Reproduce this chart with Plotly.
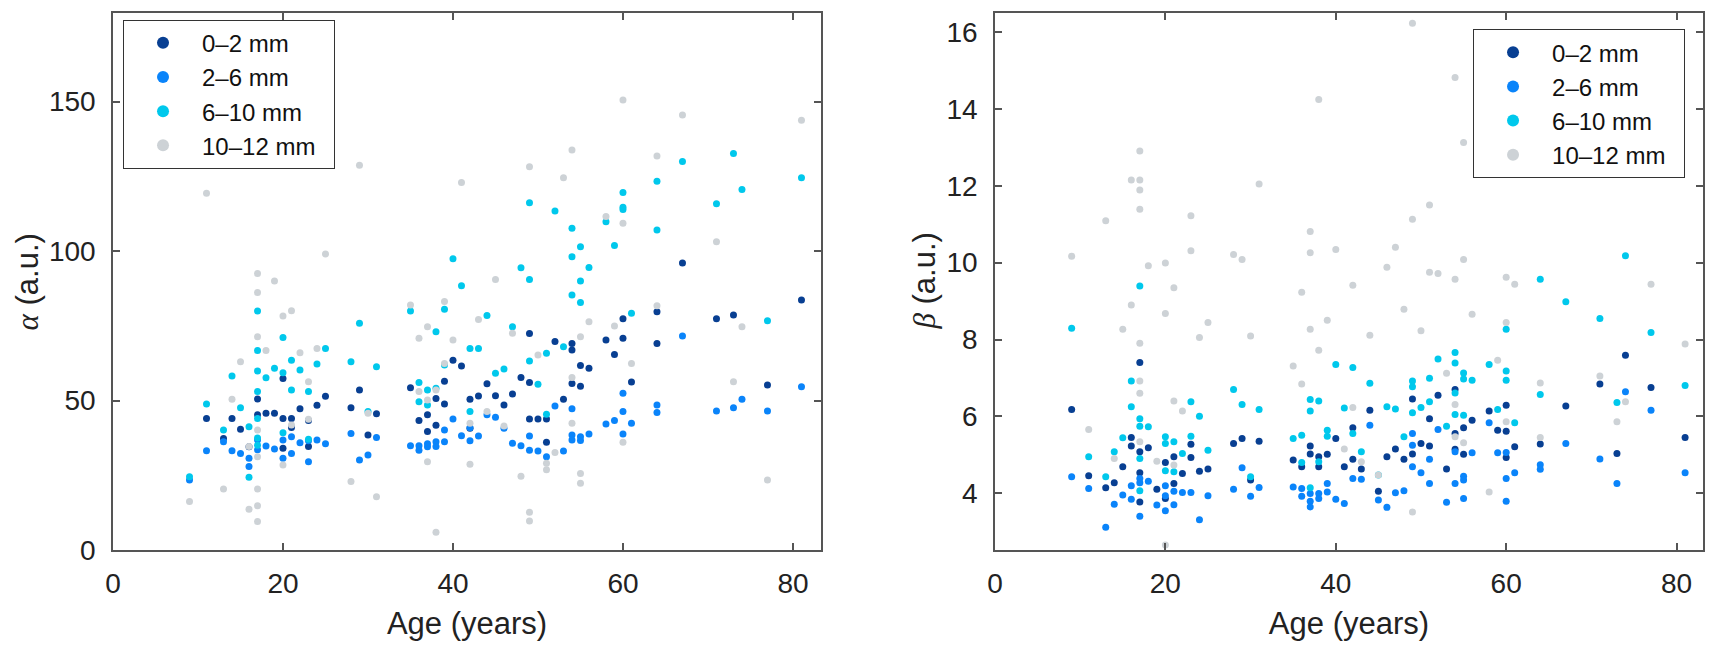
import plotly.graph_objects as go

# ---- alpha (left panel) ----
a02_age = [11, 13, 14, 15, 16, 17, 17, 18, 19, 20, 20, 20, 21, 21, 22, 23, 23, 24, 25, 28, 29, 30, 31,
           35, 36, 37, 37, 38, 38, 39, 39, 40, 41, 42, 42, 43, 44, 45, 46, 47, 48, 49, 49, 49, 50, 51, 51,
           52, 53, 54, 54, 54, 55, 55, 56, 58, 59, 60, 60, 61, 64, 64, 67, 71, 73, 77, 81]
a02 = [44.0, 37.3, 44.0, 40.4, 34.5, 50.5, 45.2, 45.7, 45.7, 57.4, 44.0, 34.0, 44.0, 41.0, 47.2, 34.6, 43.3,
       48.4, 51.4, 47.6, 53.5, 38.5, 45.6, 54.3, 43.3, 45.2, 39.6, 50.7, 41.7, 56.4, 48.8, 63.5, 61.5, 50.4,
       40.7, 51.5, 55.6, 51.6, 48.5, 52.2, 57.7, 72.4, 56.0, 43.8, 43.8, 43.8, 36.0, 69.7, 50.4, 69.1, 66.9,
       55.7, 61.7, 54.8, 60.8, 70.2, 65.4, 77.3, 70.8, 56.2, 79.7, 69.1, 96.0, 77.3, 78.6, 55.2, 83.6]

a26_age = [9, 11, 13, 14, 15, 16, 16, 17, 17, 18, 19, 20, 20, 21, 21, 22, 23, 23, 24, 25, 28, 29, 30, 31,
           35, 36, 36, 37, 37, 38, 38, 39, 39, 40, 41, 42, 42, 43, 44, 45, 46, 47, 48, 49, 49, 50, 51, 52,
           53, 54, 54, 54, 55, 55, 56, 58, 59, 60, 60, 60, 61, 64, 64, 67, 71, 73, 74, 77, 81]
a26 = [23.4, 33.2, 36.2, 33.2, 32.3, 30.7, 27.9, 36.8, 33.5, 34.8, 33.8, 36.8, 30.7, 37.9, 32.3, 35.9, 29.5,
       36.5, 36.8, 35.5, 39.0, 30.1, 31.8, 37.6, 34.9, 34.9, 33.4, 35.5, 34.5, 36.2, 34.6, 40.1, 36.2, 43.8,
       38.2, 40.9, 36.5, 38.1, 45.2, 44.4, 40.7, 35.7, 34.9, 38.1, 33.4, 33.1, 31.2, 48.2, 33.1, 47.2, 38.5,
       36.8, 37.9, 36.6, 38.8, 42.1, 43.3, 52.4, 46.3, 38.8, 42.4, 48.5, 46.0, 71.6, 46.5, 47.6, 50.4, 46.5,
       54.6]

a610_age = [9, 11, 13, 14, 15, 16, 16, 17, 17, 17, 17, 17, 17, 17, 18, 19, 20, 20, 20, 21, 21, 22, 23, 23,
            24, 25, 28, 29, 30, 31, 35, 36, 36, 37, 37, 38, 38, 39, 39, 40, 41, 42, 42, 43, 44, 45, 46, 47,
            48, 49, 49, 49, 50, 51, 51, 52, 53, 54, 54, 54, 55, 55, 55, 56, 58, 59, 60, 60, 60, 61, 64, 64,
            67, 71, 73, 74, 77, 81]
a610 = [24.5, 48.8, 40.1, 58.2, 47.6, 41.2, 24.3, 79.9, 66.7, 59.9, 53.0, 44.0, 37.5, 35.0, 57.6, 60.8, 71.1,
        59.3, 39.2, 63.5, 53.5, 60.2, 53.0, 37.0, 62.2, 67.4, 63.0, 75.8, 46.3, 61.3, 79.9, 56.0, 49.6, 53.5,
        48.5, 73.0, 54.1, 80.5, 61.9, 97.4, 88.4, 67.4, 46.3, 67.4, 78.4, 59.1, 60.5, 74.7, 94.4, 116.1, 90.5,
        63.2, 55.4, 65.8, 45.4, 113.4, 68.0, 107.6, 98.1, 85.3, 101.4, 90.0, 82.8, 94.5, 109.8, 101.8, 119.6,
        114.6, 113.9, 79.2, 123.3, 107.0, 129.9, 115.8, 132.6, 120.6, 76.7, 124.5]

a1012_age = [9, 11, 13, 14, 15, 16, 16, 17, 17, 17, 17, 17, 17, 17, 17, 18, 19, 20, 20, 21, 21, 22, 23, 23,
             24, 25, 28, 29, 30, 31, 35, 36, 36, 37, 37, 37, 38, 38, 39, 39, 40, 41, 42, 42, 43, 44, 45, 46,
             47, 48, 49, 49, 49, 50, 51, 51, 52, 53, 54, 54, 54, 55, 55, 55, 56, 58, 59, 60, 60, 60, 61, 64,
             64, 67, 71, 73, 74, 77, 81]
a1012 = [16.2, 119.3, 20.4, 50.4, 63.0, 13.6, 34.6, 92.5, 86.1, 71.3, 40.1, 31.2, 20.4, 14.8, 9.5, 66.7, 90.0,
         78.3, 28.4, 80.0, 41.8, 66.0, 56.3, 43.7, 67.4, 99.0, 22.9, 128.7, 45.7, 17.8, 81.9, 70.8, 53.0, 74.7,
         50.2, 29.5, 53.5, 5.9, 83.1, 62.4, 70.2, 122.9, 42.4, 28.7, 77.1, 46.3, 90.5, 41.5, 72.5, 24.7, 128.2,
         12.6, 9.7, 65.2, 29.0, 26.8, 32.6, 124.5, 133.8, 57.7, 42.4, 71.3, 25.6, 22.3, 76.3, 111.5, 74.9,
         150.5, 109.3, 36.0, 62.4, 131.8, 81.7, 145.5, 103.1, 56.3, 74.7, 23.4, 143.7]

# ---- beta (right panel) ----
b02_age = [9, 11, 13, 14, 15, 16, 16, 17, 17, 17, 17, 18, 19, 20, 20, 21, 21, 22, 23, 23, 24, 25, 28, 29, 30,
           31, 35, 36, 37, 37, 38, 38, 39, 40, 41, 42, 42, 43, 44, 45, 46, 47, 48, 49, 49, 50, 51, 51, 52, 53,
           54, 54, 54, 55, 55, 56, 58, 59, 60, 60, 60, 61, 64, 67, 71, 73, 74, 77, 81]
b02 = [6.18, 4.45, 4.14, 4.27, 4.69, 5.45, 5.23, 7.40, 5.08, 4.53, 3.77, 5.18, 4.10, 4.80, 3.86, 4.95, 4.25,
       4.51, 5.27, 4.93, 4.57, 4.63, 5.29, 5.42, 4.34, 5.35, 4.86, 4.69, 5.23, 5.02, 4.95, 4.69, 5.01, 5.42,
       4.69, 5.70, 4.88, 4.63, 6.16, 4.05, 4.95, 5.15, 4.88, 6.45, 5.02, 5.29, 5.94, 5.23, 6.55, 4.63, 6.70,
       5.55, 5.14, 5.70, 5.01, 5.90, 6.14, 5.64, 6.29, 5.61, 4.93, 5.21, 5.28, 6.27, 6.84, 5.03, 7.59, 6.75,
       5.45]

b26_age = [9, 11, 13, 14, 15, 16, 16, 17, 17, 17, 18, 19, 20, 20, 20, 21, 21, 22, 23, 24, 25, 28, 29, 30, 31,
           35, 36, 36, 37, 37, 37, 38, 38, 39, 39, 40, 41, 42, 43, 44, 45, 46, 47, 48, 49, 49, 49, 50, 51, 51,
           52, 53, 54, 54, 55, 55, 55, 56, 58, 59, 60, 60, 60, 61, 64, 64, 67, 71, 73, 74, 77, 81]
b26 = [4.43, 4.12, 3.11, 3.71, 3.95, 4.19, 3.84, 4.38, 4.27, 3.40, 4.31, 3.69, 4.19, 3.93, 3.54, 4.05, 3.70,
       4.02, 4.02, 3.31, 3.93, 4.10, 4.66, 3.92, 4.15, 4.16, 4.12, 3.92, 3.99, 3.79, 3.64, 3.99, 3.86, 4.25,
       4.03, 3.84, 3.73, 4.38, 4.36, 5.77, 3.82, 3.63, 4.01, 4.06, 5.55, 5.25, 4.69, 4.53, 4.88, 4.25, 5.66,
       3.76, 5.08, 4.25, 4.44, 4.34, 3.86, 5.05, 5.83, 5.05, 5.06, 4.38, 3.79, 4.53, 4.74, 4.62, 5.29, 4.89,
       4.25, 6.64, 6.16, 4.53]

b610_age = [9, 11, 13, 14, 15, 16, 16, 17, 17, 17, 17, 17, 18, 20, 20, 20, 21, 21, 22, 23, 23, 24, 25, 28, 29,
            30, 31, 35, 36, 36, 37, 37, 37, 38, 38, 39, 39, 40, 41, 42, 42, 43, 44, 45, 46, 47, 48, 49, 49, 49,
            50, 51, 51, 52, 53, 54, 54, 54, 54, 55, 55, 55, 56, 58, 59, 60, 60, 60, 61, 64, 64, 67, 71, 73,
            74, 77, 81]
b610 = [8.29, 4.95, 4.43, 5.08, 5.44, 6.92, 6.25, 9.39, 5.94, 5.74, 4.90, 4.06, 5.73, 5.47, 5.29, 4.58, 5.34,
        4.56, 5.03, 6.38, 5.48, 6.00, 5.12, 6.70, 6.31, 4.43, 6.18, 5.42, 5.51, 4.80, 6.44, 6.14, 4.14, 6.40,
        4.82, 5.64, 5.48, 7.35, 6.22, 7.27, 5.55, 5.08, 6.86, 4.47, 6.25, 6.19, 5.47, 6.92, 6.77, 6.09, 6.23,
        6.99, 6.38, 7.49, 5.74, 7.66, 7.39, 6.61, 6.05, 7.13, 6.97, 6.03, 6.94, 7.35, 6.18, 8.27, 7.18, 6.94,
        5.83, 9.57, 6.57, 8.98, 8.55, 6.36, 10.18, 8.18, 6.80]

b1012_age = [9, 11, 13, 14, 15, 16, 16, 17, 17, 17, 17, 17, 17, 17, 17, 18, 19, 20, 20, 20, 21, 21, 21, 22, 23,
             23, 24, 25, 28, 29, 30, 31, 35, 36, 36, 37, 37, 37, 38, 38, 39, 40, 41, 42, 42, 43, 44, 45, 46,
             47, 48, 49, 49, 49, 50, 51, 51, 52, 53, 54, 54, 54, 54, 55, 55, 55, 56, 58, 59, 60, 60, 60, 61,
             64, 64, 71, 73, 74, 77, 81]
b1012 = [10.17, 5.66, 11.09, 4.90, 8.27, 12.15, 8.90, 12.91, 12.15, 11.89, 11.39, 7.90, 6.92, 6.60, 5.34, 9.92,
         4.83, 9.99, 8.68, 2.65, 9.35, 6.40, 4.73, 6.14, 11.22, 10.31, 8.05, 8.44, 10.21, 10.08, 8.09, 12.05,
         7.31, 9.23, 6.84, 10.81, 10.26, 8.27, 14.25, 7.72, 8.50, 10.34, 5.15, 9.41, 6.23, 4.82, 8.11, 4.47,
         9.88, 10.40, 8.79, 16.23, 11.13, 3.51, 8.23, 11.50, 9.75, 9.72, 7.12, 14.82, 9.57, 6.31, 5.47, 13.13,
         10.08, 5.31, 8.66, 4.03, 7.46, 9.62, 8.44, 5.86, 9.44, 6.87, 5.45, 7.05, 5.86, 6.38, 9.44, 7.88]

names = ['0\u20132 mm', '2\u20136 mm', '6\u201310 mm', '10\u201312 mm']
colors = ['#083f92', '#0a84fa', '#00c8ec', '#cdd2d6']

left = [(a02_age, a02), (a26_age, a26), (a610_age, a610), (a1012_age, a1012)]
right = [(b02_age, b02), (b26_age, b26), (b610_age, b610), (b1012_age, b1012)]

FONT = 'Liberation Sans, Arial, sans-serif'
PAD = '\u00a0\u00a0'  # a little room on the right of the legend text

fig = go.Figure()
for (ages, vals), name, color in zip(left, names, colors):
    fig.add_trace(go.Scatter(x=ages, y=vals, mode='markers', name=name + PAD,
                             marker=dict(size=7, color=color, line=dict(width=0)),
                             xaxis='x', yaxis='y', legend='legend'))
for (ages, vals), name, color in zip(right, names, colors):
    fig.add_trace(go.Scatter(x=ages, y=vals, mode='markers', name=name + PAD,
                             marker=dict(size=7, color=color, line=dict(width=0)),
                             xaxis='x2', yaxis='y2', legend='legend2'))

axis_style = dict(showline=True, linecolor='#555', linewidth=1.5, mirror='ticks',
                  ticks='inside', ticklen=7, tickwidth=1.5, tickcolor='#555',
                  showgrid=False, zeroline=False, automargin=False,
                  tickfont=dict(size=28, color='#222', family=FONT))
title_font = dict(size=31, color='#222', family=FONT)

legend_style = dict(bordercolor='#333', borderwidth=1, bgcolor='white', itemsizing='constant',
                    itemwidth=68, font=dict(size=24, color='#111', family=FONT), yanchor='top')

# y titles placed as annotations so their position is exact
ytitle = '<span style="font-family:Liberation Serif"><i>{}</i></span> (a.u.)'

# the page body adds an 8px offset, so margins are shifted to compensate
fig.update_layout(
    template='none',
    width=1717, height=658,
    paper_bgcolor='white', plot_bgcolor='white',
    margin=dict(l=105, r=22, t=5, b=116, autoexpand=False),
    font=dict(family=FONT),
    xaxis=dict(domain=[0, 0.4453], range=[0, 83.3], tickvals=[0, 20, 40, 60, 80], anchor='y',
               ticklabelstandoff=8,
               title=dict(text='Age (years)', font=title_font, standoff=14), **axis_style),
    yaxis=dict(domain=[0, 1], range=[0, 179.6], tickvals=[0, 50, 100, 150], anchor='x',
               ticklabelstandoff=10, **axis_style),
    xaxis2=dict(domain=[0.5547, 1], range=[0, 83.1], tickvals=[0, 20, 40, 60, 80], anchor='y2',
                ticklabelstandoff=8,
                title=dict(text='Age (years)', font=title_font, standoff=14), **axis_style),
    yaxis2=dict(domain=[0, 1], range=[2.52, 16.5], tickvals=[4, 6, 8, 10, 12, 14, 16], anchor='x2',
                ticklabelstandoff=10, **axis_style),
    legend=dict(x=0.0063, y=0.9876, xanchor='left', **legend_style),
    legend2=dict(x=0.9887, y=0.970, xanchor='right', **legend_style),
    annotations=[
        dict(text=ytitle.format('\u03b1'), xref='paper', yref='paper', x=-0.0535, y=0.5,
             xanchor='center', yanchor='middle', textangle=-90, showarrow=False, font=title_font),
        dict(text=ytitle.format('\u03b2'), xref='paper', yref='paper', x=0.5101, y=0.5,
             xanchor='center', yanchor='middle', textangle=-90, showarrow=False, font=title_font),
    ],
)

fig.write_html('out.html')
